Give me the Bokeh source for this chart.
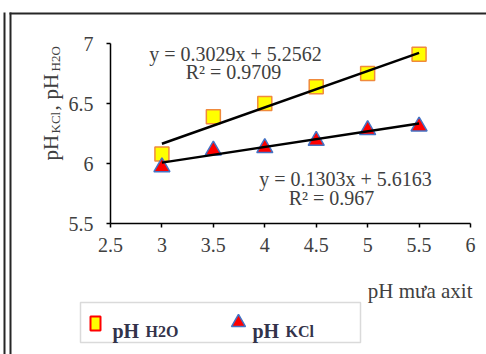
import math
from bokeh.plotting import figure
from bokeh.models import Range1d, FixedTicker, NumeralTickFormatter, Label, LinearAxis
from bokeh.embed import file_html
from bokeh.resources import INLINE

# ---- data ----
ph_rain = [3, 3.5, 4, 4.5, 5, 5.5]
ph_h2o = [6.08, 6.39, 6.50, 6.64, 6.75, 6.91]
ph_kcl = [5.97, 6.11, 6.13, 6.19, 6.28, 6.31]
slope_h2o, icpt_h2o, r2_h2o = 0.3029, 5.2562, "0.9709"
slope_kcl, icpt_kcl, r2_kcl = 0.1303, 5.6163, "0.967"
x_ticks = [2.5, 3, 3.5, 4, 4.5, 5, 5.5, 6]
y_ticks = [5.5, 6, 6.5, 7]
x_label = "pH mưa axit"

FONT = "Liberation Serif"
TXT = "#404040"
W, H = 486, 354

XL, XR, YB, YT = 2.5, 6.0, 5.5, 7.0
FL, FR, FT, FB = 110, 470, 43, 223  # plot area in page px


def dx(px):
    return XL + (px - FL) * (XR - XL) / (FR - FL)


def dy(py):
    return YT - (py - FT) * (YT - YB) / (FB - FT)


p = figure(width=W, height=H, output_backend="svg", toolbar_location=None,
           x_range=Range1d(dx(0), dx(W)), y_range=Range1d(dy(H), dy(0)),
           x_axis_location=None, y_axis_location=None,
           min_border=0, min_border_left=0, min_border_right=0,
           min_border_top=0, min_border_bottom=0)
p.outline_line_color = None
p.xgrid.visible = False
p.ygrid.visible = False
p.background_fill_color = "white"
p.border_fill_color = "white"

xaxis = LinearAxis(fixed_location=YB, bounds=(XL, XR))
yaxis = LinearAxis(fixed_location=XL, bounds=(YB, YT))
p.add_layout(xaxis, "below")
p.add_layout(yaxis, "left")
for ax, ticks in ((xaxis, x_ticks), (yaxis, y_ticks)):
    ax.ticker = FixedTicker(ticks=ticks)
    ax.formatter = NumeralTickFormatter(format="0.[0]")
    ax.minor_tick_line_color = None
    ax.major_tick_in = 0
    ax.major_tick_out = 4
    ax.axis_line_width = 1.5
    ax.axis_line_color = "black"
    ax.major_tick_line_width = 1.5
    ax.major_tick_line_color = "black"
    ax.major_label_text_font = FONT
    ax.major_label_text_font_size = "20px"
    ax.major_label_text_color = TXT
yaxis.major_label_standoff = 13
xaxis.major_label_standoff = 10

# markers
p.scatter(ph_rain, ph_h2o, marker="square", size=14, fill_color="#FFFF00",
          line_color="#F08A3C", line_width=1.5)
p.scatter(ph_rain, ph_kcl, marker="triangle", size=16, fill_color="#FF0000",
          line_color="#4472C4", line_width=1.5)

# trend lines
xs = [min(ph_rain), max(ph_rain)]
p.line(xs, [slope_h2o * x + icpt_h2o for x in xs], line_color="black", line_width=2.5)
p.line(xs, [slope_kcl * x + icpt_kcl for x in xs], line_color="black", line_width=2.5)


def lab(text, px, py, size="20px", align="center", angle=0.0, color=TXT, style="normal"):
    p.add_layout(Label(x=dx(px), y=dy(py), text=text, text_align=align,
                       text_baseline="alphabetic", text_font=FONT,
                       text_font_size=size, text_color=color, angle=angle,
                       text_font_style=style))


# regression equations
lab(f"y = {slope_h2o:.4f}x + {icpt_h2o:.4f}", 235, 53)
lab(f"R² = {r2_h2o}", 233, 71)
lab(f"y = {slope_kcl:.4f}x + {icpt_kcl:.4f}", 345, 178)
lab(f"R² = {r2_kcl}", 331, 197)

# x axis title (right aligned)
lab(x_label, 472, 290, size="21px", align="right")

# y axis title with subscripts (rotated)
rot = math.pi / 2
lab("pH", 50, 160, size="21px", align="left", angle=rot)
lab("KCl", 55, 133, size="13px", align="left", angle=rot)
lab(",", 50, 110, size="21px", align="left", angle=rot)
lab("pH", 50, 99, size="21px", align="left", angle=rot)
lab("H2O", 55, 71, size="13px", align="left", angle=rot)

# page frame lines
p.segment(x0=[dx(4), dx(10), dx(9)], y0=[dy(12), dy(12), dy(13)],
          x1=[dx(4), dx(10), dx(W)], y1=[dy(H), dy(H), dy(13)],
          line_color="#262626", line_width=2)

# legend
p.quad(left=[dx(80)], right=[dx(360)], top=[dy(302)], bottom=[dy(342)],
       fill_color="white", line_color="#DADADA", line_width=1.5)
p.rect(x=[dx(95)], y=[dy(323)], width=10, height=14, width_units="screen",
       height_units="screen", fill_color="#FFFF00", line_color="#FF0000", line_width=2)
p.scatter(x=[dx(238)], y=[dy(322)], marker="triangle", size=14, fill_color="#FF0000",
          line_color="#4472C4", line_width=1.5)
LEGC = "#33334A"
lab("pH", 112, 330, size="20px", align="left", color=LEGC, style="bold")
lab("H2O", 145, 331, size="16px", align="left", color=LEGC, style="bold")
lab("pH", 252, 330, size="20px", align="left", color=LEGC, style="bold")
lab("KCl", 285, 331, size="16px", align="left", color=LEGC, style="bold")

open("out.html", "w").write(file_html(p, INLINE))
